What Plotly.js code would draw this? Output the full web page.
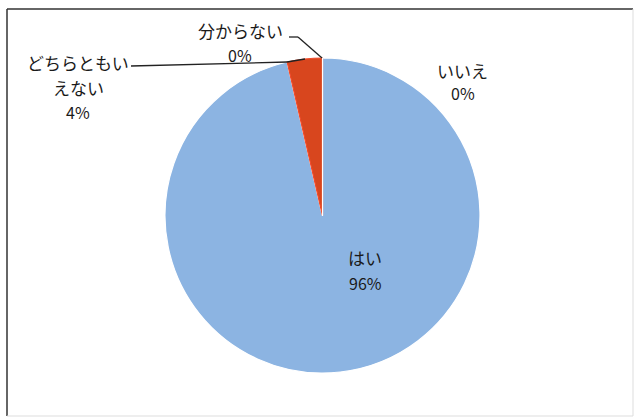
<!DOCTYPE html>
<html>
<head>
<meta charset="utf-8">
<script src="https://cdn.plot.ly/plotly-3.0.1.min.js"></script>
<style>
html,body{margin:0;padding:0;background:#fff;}
#chart{width:635px;height:418px;}
</style>
</head>
<body>
<div id="chart"></div>
<script>
// ---- data ----
const categories = ['はい', 'いいえ', 'どちらともいえない', '分からない'];
const displayLabels = ['はい', 'いいえ', 'どちらともい<br>えない', '分からない'];
const values = [96.4, 0, 3.6, 0];
const sliceColors = ['#8CB4E2', '#8CB4E2', '#D8461E', '#8CB4E2'];

// ---- layout helpers ----
const W = 635, H = 418;
const px = x => x / W;
const py = y => 1 - y / H;

const total = values.reduce((a, b) => a + b, 0);
const pct = values.map(v => Math.round(v / total * 100) + '%');

// label line-centres (pixel) for each category
const labelPos = [
  {x: 365, y: 257, dy: 26},
  {x: 463, y: 70, dy: 23},
  {x: 78, y: 62, dy: 25},
  {x: 240, y: 30, dy: 25}
];

const font = {family: '"Noto Sans CJK JP", "Noto Sans", sans-serif', size: 17, color: '#1a1a1a'};
const annotations = [];
categories.forEach((c, i) => {
  const lines = displayLabels[i].split('<br>').concat([pct[i]]);
  lines.forEach((t, k) => {
    annotations.push({
      xref: 'paper', yref: 'paper',
      x: px(labelPos[i].x), y: py(labelPos[i].y + k * labelPos[i].dy),
      xanchor: 'center', yanchor: 'middle',
      text: t, showarrow: false,
      font: Object.assign({}, font, {size: /%$/.test(t) ? 16 : 17})
    });
  });
});

// leader lines (pixel points)
const leader1 = [[131, 66], [287, 62], [305, 59]];
const leader2 = [[289, 37], [298, 37], [322, 58]];
const mkLine = (pts) => pts.slice(1).map((p, i) => ({
  type: 'line', xref: 'paper', yref: 'paper',
  x0: px(pts[i][0]), y0: py(pts[i][1]), x1: px(p[0]), y1: py(p[1]),
  line: {color: '#222', width: 1.3}
}));
const shapeList = [].concat(mkLine(leader1), mkLine(leader2), [
  {type: 'line', xref: 'paper', yref: 'paper', x0: px(7), y0: py(9), x1: px(7), y1: py(416), line: {color: '#333', width: 1.5}},
  {type: 'line', xref: 'paper', yref: 'paper', x0: px(7), y0: py(9), x1: px(633), y1: py(9), line: {color: '#333', width: 1.5}},
  {type: 'line', xref: 'paper', yref: 'paper', x0: px(633), y0: py(9), x1: px(633), y1: py(416), line: {color: '#ddd', width: 1}},
  {type: 'line', xref: 'paper', yref: 'paper', x0: px(7), y0: py(416), x1: px(633), y1: py(416), line: {color: '#ddd', width: 1}}
]);

const cx = 322.5, cy = 215.5, r = 157.5;
const trace = {
  type: 'pie',
  labels: categories,
  values: values,
  sort: false,
  direction: 'clockwise',
  rotation: 0,
  textinfo: 'none',
  hoverinfo: 'none',
  showlegend: false,
  marker: {colors: sliceColors, line: {color: ['#fff', '#fff', '#f04a2a', '#fff'], width: 1.2}},
  domain: {x: [px(cx - r), px(cx + r)], y: [py(cy + r), py(cy - r)]}
};

Plotly.newPlot('chart', [trace], {
  width: W, height: H,
  margin: {l: 0, r: 0, t: 0, b: 0},
  paper_bgcolor: '#fff',
  showlegend: false,
  annotations: annotations,
  shapes: shapeList
}, {staticPlot: true});
</script>
</body>
</html>
